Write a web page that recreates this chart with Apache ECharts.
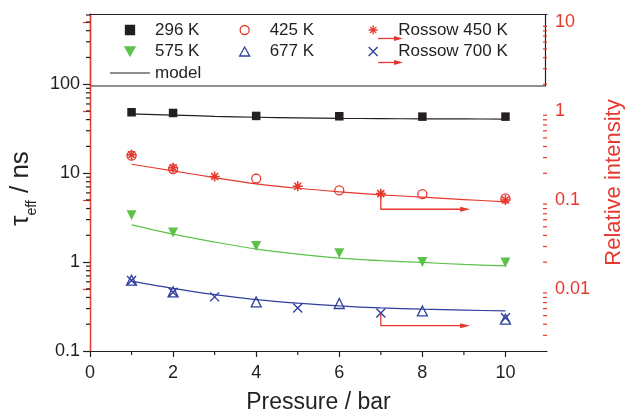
<!DOCTYPE html>
<html>
<head>
<meta charset="utf-8">
<script src="https://cdn.jsdelivr.net/npm/echarts@6/dist/echarts.min.js"></script>
<style>html,body{margin:0;padding:0;background:#fff}#c{width:627px;height:411px}</style>
</head>
<body>
<div id="c"></div>
<script>
// ---- data ----
const pressureMeas = [1, 2, 4, 6, 8, 10];
const tau296 = [48.4, 47.5, 44.0, 43.6, 43.2, 43.2];
const tau425 = [15.7, 11.1, 8.7, 6.4, 5.8, 5.2];
const tau575 = [3.37, 2.15, 1.52, 1.26, 1.0, 0.99];
const tau677 = [0.625, 0.462, 0.356, 0.342, 0.282, 0.228];

const pressureRossow = [1, 2, 3, 5, 7, 10];
const rossow450 = [0.323, 0.231, 0.184, 0.143, 0.118, 0.100];
const rossow700 = [0.0124, 0.00916, 0.00813, 0.0061, 0.00536, 0.00474];

const pressureModel = [1, 2, 3, 4, 5, 6, 7, 8, 9, 10];
const model296 = [46.4, 45.0, 43.6, 42.5, 41.8, 41.3, 41.0, 40.8, 40.7, 40.6];
const model425 = [12.6, 10.6, 8.91, 7.59, 6.76, 6.17, 5.71, 5.37, 5.05, 4.76];
const model575 = [2.62, 2.06, 1.68, 1.40, 1.23, 1.11, 1.04, 0.99, 0.94, 0.905];
const model677 = [0.61, 0.505, 0.43, 0.379, 0.345, 0.321, 0.305, 0.295, 0.288, 0.282];

// arrows pointing to the right axis (x, relative intensity)
const arrow450 = [[7, 0.118], [7, 0.0787], [9.0, 0.0787]];
const arrow700 = [[7, 0.00536], [7, 0.00385], [9.0, 0.00385]];
const arrowHeads = [[9.03, 0.0787], [9.03, 0.00385]];

// axis ticks
const xMajorTicks = [0, 2, 4, 6, 8, 10];
const xMinorTicks = [1, 3, 5, 7, 9];
const leftMajorTicks = [0.1, 1, 10, 100];
const leftMinorTicks = [0.2,0.3,0.4,0.5,0.6,0.7,0.8,0.9,2,3,4,5,6,7,8,9,20,30,40,50,60,70,80,90,200,300,400,500,600];
const rightMajorTicks = [0.01, 0.1, 1, 10];
const rightMinorTicks = [0.003,0.004,0.005,0.006,0.007,0.008,0.009,0.02,0.03,0.04,0.05,0.06,0.07,0.08,0.09,0.2,0.3,0.4,0.5,0.6,0.7,0.8,0.9,2,3,4,5,6,7,8,9];

const BLACK = '#231f20', RED = '#e5392f', GREEN = '#5cc24a', BLUE = '#2f3f9c';
const FONT = 'Liberation Sans';

const zip = (xs, ys) => xs.map((x, i) => [x, ys[i]]);
const fmt = v => String(+(+v).toPrecision(6));
const decadeLabel = v => {const l = Math.log10(v); return Math.abs(l - Math.round(l)) < 1e-6 ? fmt(v) : '';};

const SQUARE = 'path://M0,0L10,0L10,10L0,10Z';
const TRI_UP = 'path://M5,0L10,9L0,9Z';
const TRI_DOWN = 'path://M0,0L10,0L5,9Z';
const ASTER = 'path://M5,0L5,10M0,5L10,5M1.5,1.5L8.5,8.5M1.5,8.5L8.5,1.5';
const CROSS = 'path://M0,0L10,10M0,10L10,0';
const LINE_ICON = 'path://M0,0L40,0L40,1.2L0,1.2Z';

const chart = echarts.init(document.getElementById('c'), null, {renderer: 'canvas'});

const legendCommon = {
  orient: 'vertical', top: 21, itemWidth: 40, itemHeight: 9, itemGap: 3.5,
  padding: 0, selectedMode: false, symbolKeepAspect: true,
  textStyle: {fontFamily: FONT, fontSize: 17, color: BLACK, lineHeight: 18},
  itemStyle: {borderWidth: 1.3}
};

const option = {
  animation: false,
  backgroundColor: '#fff',
  grid: {left: 90, right: 80, top: 14, bottom: 60, containLabel: false, outerBoundsMode: 'none'},
  legend: [
    Object.assign({left: 110, data: ['296 K', '575 K',
      {name: 'model', icon: LINE_ICON, itemStyle: {borderWidth: 0}}]}, legendCommon),
    Object.assign({left: 239, data: ['425 K', '677 K']}, legendCommon),
    Object.assign({left: 368, data: ['Rossow 450 K', 'Rossow 700 K']}, legendCommon)
  ],
  graphic: [
    {type: 'rect', z: 0, silent: true, shape: {x: 90.5, y: 14.5, width: 455, height: 71.5},
     style: {fill: 'none', stroke: BLACK, lineWidth: 1.2}},
    {type: 'polyline', z: 10, silent: true, shape: {points: [[378, 38.5], [395, 38.5]]}, style: {stroke: RED, lineWidth: 1.3, fill: null}},
    {type: 'polygon', z: 10, silent: true, shape: {points: [[394, 36], [403, 38.5], [394, 41]]}, style: {fill: RED}},
    {type: 'polyline', z: 10, silent: true, shape: {points: [[378, 62.5], [395, 62.5]]}, style: {stroke: RED, lineWidth: 1.3, fill: null}},
    {type: 'polygon', z: 10, silent: true, shape: {points: [[394, 60], [403, 62.5], [394, 65]]}, style: {fill: RED}}
  ],
  xAxis: [
    {
      type: 'value', min: 0, max: 11, interval: 2, position: 'bottom',
      name: 'Pressure / bar', nameLocation: 'middle', nameGap: 40,
      nameTextStyle: {fontFamily: FONT, fontSize: 23, color: BLACK},
      axisLine: {show: true, lineStyle: {color: BLACK, width: 1.2}},
      axisTick: {show: true, inside: false, length: 6, lineStyle: {color: BLACK, width: 1.2}, customValues: xMajorTicks},
      axisLabel: {margin: 13, fontFamily: FONT, fontSize: 18, color: BLACK, customValues: xMajorTicks,
                  formatter: v => (v % 2 === 0 ? String(v) : '')},
      splitLine: {show: false}
    },
    {
      type: 'value', min: 0, max: 11, position: 'top',
      axisLine: {show: true, lineStyle: {color: BLACK, width: 1.2}},
      axisTick: {show: false}, axisLabel: {show: false}, splitLine: {show: false}
    }
  ],
  yAxis: [
    {
      type: 'log', logBase: 10, min: 0.1, max: 616, position: 'left',
      name: '{t|τ}{s|eff}{t| / ns}{g| }', nameLocation: 'middle', nameGap: 51, nameRotate: 90,
      nameTextStyle: {
        fontFamily: FONT, color: BLACK,
        rich: {
          t: {fontFamily: FONT, fontSize: 26, lineHeight: 26, color: BLACK, verticalAlign: 'top'},
          s: {fontFamily: FONT, fontSize: 14, lineHeight: 14, color: BLACK, padding: [17, 0, 0, 0], verticalAlign: 'top'},
          g: {fontFamily: FONT, fontSize: 26, lineHeight: 26, width: 12}
        }
      },
      axisLine: {show: true, lineStyle: {color: BLACK, width: 1.2}},
      axisTick: {show: true, inside: false, length: 7, lineStyle: {color: BLACK, width: 1.2}, customValues: leftMajorTicks},
      axisLabel: {margin: 10, fontFamily: FONT, fontSize: 18, color: BLACK, customValues: leftMajorTicks, formatter: decadeLabel},
      splitLine: {show: false}, minorTick: {show: false}
    },
    {
      type: 'log', logBase: 10, min: 0.002, max: 12.4, position: 'right',
      name: 'Relative intensity', nameLocation: 'middle', nameGap: 56, nameRotate: 90,
      nameTextStyle: {fontFamily: FONT, fontSize: 22, color: RED},
      axisLine: {show: true, lineStyle: {color: RED, width: 1.2}},
      axisTick: {show: true, inside: true, length: 7, lineStyle: {color: RED, width: 1.2}, customValues: rightMajorTicks},
      axisLabel: {margin: 8, fontFamily: FONT, fontSize: 18, color: RED, customValues: rightMajorTicks, formatter: decadeLabel},
      splitLine: {show: false}
    }
  ],
  series: [
    // model curves
    {name: 'model', type: 'line', data: zip(pressureModel, model296), smooth: 0.3, symbol: 'none',
     lineStyle: {color: BLACK, width: 1.2}, itemStyle: {color: BLACK}, z: 3, silent: true},
    {name: 'model 425', type: 'line', data: zip(pressureModel, model425), smooth: 0.3, symbol: 'none',
     lineStyle: {color: RED, width: 1.2}, itemStyle: {color: RED}, z: 3, silent: true},
    {name: 'model 575', type: 'line', data: zip(pressureModel, model575), smooth: 0.3, symbol: 'none',
     lineStyle: {color: GREEN, width: 1.2}, itemStyle: {color: GREEN}, z: 3, silent: true},
    {name: 'model 677', type: 'line', data: zip(pressureModel, model677), smooth: 0.3, symbol: 'none',
     lineStyle: {color: BLUE, width: 1.2}, itemStyle: {color: BLUE}, z: 3, silent: true},
    // measurements
    {name: '296 K', type: 'scatter', data: zip(pressureMeas, tau296), symbol: SQUARE, symbolSize: 8.5,
     itemStyle: {color: BLACK, borderColor: BLACK, borderWidth: 0, opacity: 1}, z: 5, silent: true},
    {name: '425 K', type: 'scatter', data: zip(pressureMeas, tau425), symbol: 'circle', symbolSize: 9,
     itemStyle: {color: 'rgba(255,255,255,0)', borderColor: RED, borderWidth: 1.3, opacity: 1}, z: 5, silent: true},
    {name: '575 K', type: 'scatter', data: zip(pressureMeas, tau575), symbol: TRI_DOWN, symbolSize: 10,
     itemStyle: {color: GREEN, borderColor: GREEN, borderWidth: 0, opacity: 1}, z: 5, silent: true},
    {name: '677 K', type: 'scatter', data: zip(pressureMeas, tau677), symbol: TRI_UP, symbolSize: 10,
     itemStyle: {color: 'rgba(255,255,255,0)', borderColor: BLUE, borderWidth: 1.3, opacity: 1}, z: 5, silent: true},
    // Rossow data (right axis)
    {name: 'Rossow 450 K', type: 'scatter', yAxisIndex: 1, data: zip(pressureRossow, rossow450), symbol: ASTER, symbolSize: 10,
     itemStyle: {color: 'rgba(255,255,255,0)', borderColor: RED, borderWidth: 1.6, opacity: 1}, z: 5, silent: true},
    {name: 'Rossow 700 K', type: 'scatter', yAxisIndex: 1, data: zip(pressureRossow, rossow700), symbol: CROSS, symbolSize: 9,
     itemStyle: {color: 'rgba(255,255,255,0)', borderColor: BLUE, borderWidth: 1.4, opacity: 1}, z: 5, silent: true},
    // arrows
    {name: 'arrow450', type: 'line', yAxisIndex: 1, data: arrow450, symbol: 'none',
     lineStyle: {color: RED, width: 1.3}, z: 4, silent: true},
    {name: 'arrow700', type: 'line', yAxisIndex: 1, data: arrow700, symbol: 'none',
     lineStyle: {color: RED, width: 1.3}, z: 4, silent: true},
    {name: 'arrowHeads', type: 'scatter', yAxisIndex: 1, data: arrowHeads, symbol: 'triangle', symbolSize: [5, 10], symbolRotate: -90,
     itemStyle: {color: RED, opacity: 1}, z: 4, silent: true, clip: false},
    // minor ticks
    {name: 'leftMinor', type: 'scatter', data: leftMinorTicks.map(v => [0, v]), symbol: 'rect', symbolSize: [4, 1.2], symbolOffset: [-2, 0],
     itemStyle: {color: BLACK, opacity: 1}, z: 6, silent: true, clip: false},
    {name: 'rightMinor', type: 'scatter', yAxisIndex: 1, data: rightMinorTicks.map(v => [11, v]), symbol: 'rect', symbolSize: [4, 1.2], symbolOffset: [-2, 0],
     itemStyle: {color: RED, opacity: 1}, z: 6, silent: true, clip: false},
    {name: 'bottomMinor', type: 'scatter', data: xMinorTicks.map(v => [v, 0.1]), symbol: 'rect', symbolSize: [1.2, 4], symbolOffset: [0, 2],
     itemStyle: {color: BLACK, opacity: 1}, z: 6, silent: true, clip: false}
  ]
};
chart.setOption(option);
</script>
</body>
</html>
